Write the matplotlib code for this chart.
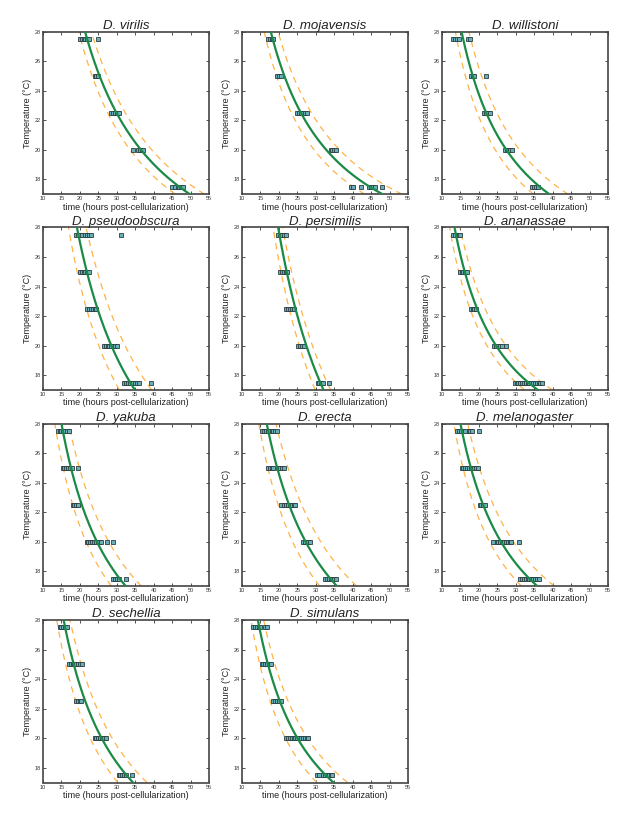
import numpy as np
import matplotlib
matplotlib.use("Agg")
import matplotlib.pyplot as plt

plt.rcParams['font.family'] = ['Liberation Sans', 'DejaVu Sans']

species = ["D. virilis", "D. mojavensis", "D. willistoni",
           "D. pseudoobscura", "D. persimilis", "D. ananassae",
           "D. yakuba", "D. erecta", "D. melanogaster",
           "D. sechellia", "D. simulans"]

temps = [27.5, 25.0, 22.5, 20.0, 17.5]

# observed times (hours post-cellularization) per temperature, per species
times = {
    "D. virilis": [[20, 20.5, 21, 21.5, 22, 22.5, 24.8],
                   [24, 24.5, 25],
                   [28.5, 29, 29.5, 30, 30.5],
                   [34.4, 35.8, 36.3, 36.8, 37.2],
                   [45, 45.8, 46.5, 47, 47.5, 48]],
    "D. mojavensis": [[17, 17.5, 18, 18.5],
                      [19.5, 20, 20.5],
                      [25, 25.5, 26, 26.5, 27, 27.5],
                      [34, 34.5, 35, 35.5],
                      [39.6, 40.1, 42.3, 44.5, 45, 45.5, 46, 47.9]],
    "D. willistoni": [[13, 13.5, 14, 14.5, 17, 17.5],
                      [17.8, 18.3, 18.8, 21.8],
                      [21.5, 22, 22.5, 23],
                      [27, 27.5, 28, 28.5, 29],
                      [34.5, 35, 35.5, 36]],
    "D. pseudoobscura": [[19, 19.5, 20, 20.5, 21.5, 22, 22.5, 23, 31.2],
                         [20, 20.5, 21, 21.5, 22, 22.5],
                         [22, 22.5, 23, 23.5, 24, 24.5],
                         [26.5, 27, 27.5, 28, 28.5, 29, 29.5, 30],
                         [32, 32.5, 33, 33.5, 34, 34.5, 35, 35.5, 36, 39.4]],
    "D. persimilis": [[19.8, 20.3, 20.8, 21.3, 21.8],
                      [20.3, 20.8, 21.3, 21.8, 22.3],
                      [22, 22.5, 23, 23.5, 24],
                      [25.3, 25.8, 26.3, 26.8],
                      [30.5, 31, 31.5, 32, 33.7]],
    "D. ananassae": [[13, 13.5, 14, 14.5, 15],
                     [14.8, 15.3, 15.8, 16.3, 16.8],
                     [17.8, 18.3, 18.8, 19.3],
                     [24.2, 24.7, 25.2, 25.7, 26.2, 27.4],
                     [29.7, 30.2, 30.7, 31.2, 31.7, 32.2, 32.7, 33.2, 33.7,
                      34.2, 34.7, 35.2, 35.7, 36.2, 36.7, 37.2]],
    "D. yakuba": [[14, 14.5, 15, 15.5, 16, 16.5, 17],
                  [15.3, 15.8, 16.3, 16.8, 17.3, 17.8, 19.5],
                  [18, 18.5, 19, 19.5],
                  [21.8, 22.3, 22.8, 23.3, 23.8, 24.3, 24.8, 25.3, 25.8,
                   27.4, 29.1],
                  [29, 29.5, 30, 30.5, 32.4]],
    "D. erecta": [[15.5, 16, 16.5, 17, 17.5, 18, 18.5, 19, 19.5],
                  [17, 17.5, 18, 18.5, 19.8, 20.3, 20.8, 21.3],
                  [20.5, 21.5, 22, 22.5, 23, 23.5, 24, 24.5],
                  [26.5, 27, 27.5, 28, 28.5],
                  [32.5, 33, 33.5, 34, 34.5, 35, 35.5]],
    "D. melanogaster": [[14.2, 14.7, 15.2, 15.7, 16.2, 17.2, 17.7, 18.2, 20],
                        [15.3, 15.8, 16.3, 16.8, 17.3, 17.8, 18.3, 18.8,
                         19.3, 19.8],
                        [20.2, 20.7, 21.2, 21.7],
                        [23.9, 24.8, 25.3, 25.8, 26.3, 26.8, 27.3, 27.8,
                         28.3, 28.8, 30.8],
                        [31.2, 31.7, 32.2, 32.7, 33.2, 33.7, 34.2, 34.7,
                         35.2, 35.7, 36.2]],
    "D. sechellia": [[14.5, 15, 15.5, 16, 16.5],
                     [17, 17.5, 18, 18.5, 19, 19.5, 20, 20.5],
                     [19, 19.5, 20, 20.3],
                     [24, 24.5, 25, 25.5, 26, 26.5, 27],
                     [30.5, 31, 31.5, 32, 32.5, 34.2]],
    "D. simulans": [[13, 13.5, 14, 14.5, 15, 16.3, 16.8],
                    [15.3, 15.8, 16.3, 16.8, 17.3, 17.8],
                    [18.5, 19, 19.5, 20, 20.5],
                    [22, 22.5, 23, 23.5, 24, 24.5, 25, 25.5, 26, 26.5, 27,
                     27.5, 28],
                    [30.3, 30.8, 32, 32.5, 33, 33.5, 34, 34.5]],
}

# fitted curve: time at 28 C and at 17 C, plus lower/upper band factors
fit_t28 = [21.4, 17.8, 15.3, 19.2, 19.8, 13.4, 15.0, 16.7, 15.0, 15.6, 14.3]
fit_t17 = [49.8, 48.1, 39.1, 34.9, 32.1, 36.0, 32.4, 35.7, 35.8, 34.4, 34.8]
band_lo = [0.92, 0.90, 0.89, 0.88, 0.93, 0.90, 0.88, 0.87, 0.88, 0.88, 0.87]
band_hi = [1.08, 1.11, 1.13, 1.13, 1.06, 1.11, 1.13, 1.15, 1.13, 1.11, 1.11]


def fit_curve(t28, t17, T):
    # hyperbolic development-time model t = a / (T - T0)
    T0 = (t17 * 17 - t28 * 28) / (t17 - t28)
    a = t28 * (28 - T0)
    return a / (T - T0)


W, H = 638, 825
fig = plt.figure(figsize=(W / 100, H / 100), dpi=100)

col_left = [43, 242, 442]
row_top = [31.7, 227.5, 423.5, 620]
ax_w, ax_h = 166, 162.5

T = np.linspace(17, 28, 200)
green = '#1b8a47'
orange = '#ffb347'

for i, name in enumerate(species):
    r, c = divmod(i, 3)
    ax = fig.add_axes([col_left[c] / W, 1 - (row_top[r] + ax_h) / H,
                       ax_w / W, ax_h / H])
    for temp, xs in zip(temps, times[name]):
        ax.plot(xs, [temp] * len(xs), 's', ms=2.4, mfc='#6aaeb6',
                mec='#2b3e42', mew=0.6, zorder=3)
    fit = fit_curve(fit_t28[i], fit_t17[i], T)
    ax.plot(fit, T, '-', color=green, lw=1.6, zorder=4)
    ax.plot(fit * band_lo[i], T, '--', color=orange, lw=0.9, dashes=(5, 4))
    ax.plot(fit * band_hi[i], T, '--', color=orange, lw=0.9, dashes=(5, 4))
    ax.set_xlim(10, 55)
    ax.set_ylim(17, 28)
    ax.set_xticks(range(10, 56, 5))
    ax.set_yticks(range(18, 29, 2))
    ax.tick_params(direction='in', top=True, right=True, length=2.5,
                   width=0.6, labelsize=4, colors='#333333', pad=1.5)
    for s in ax.spines.values():
        s.set_linewidth(1.2)
        s.set_color('#444444')
    ax.set_title(name, fontsize=9.5, style='italic', pad=2, color='#222222')
    ax.set_xlabel("time (hours post-cellularization)", fontsize=6.5,
                  labelpad=1, color='#222222')
    ax.set_ylabel("Temperature (°C)", fontsize=6.5, labelpad=2,
                  color='#222222')

fig.savefig('out.png', dpi=100)
